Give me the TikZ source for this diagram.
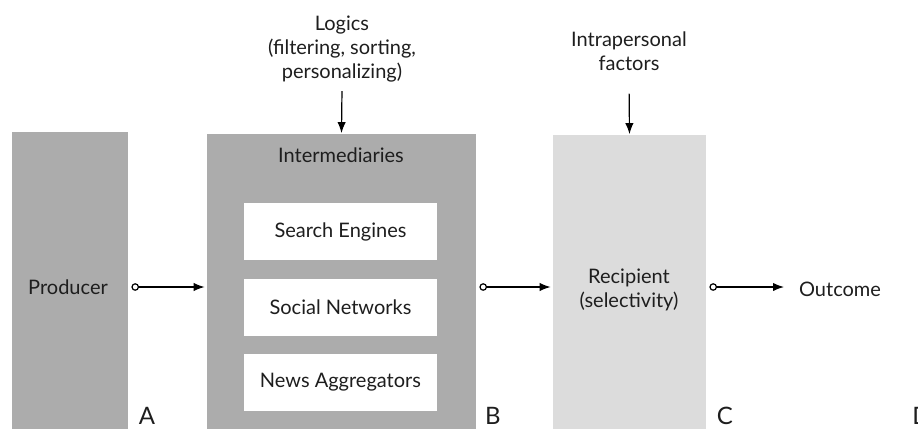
\documentclass[tikz,border=0pt]{standalone}
\usepackage{fontspec}
\setmainfont{Lato}
\usetikzlibrary{arrows.meta}

\definecolor{bardark}{RGB}{172,172,172}
\definecolor{barlight}{RGB}{220,220,220}
\definecolor{inktext}{RGB}{30,30,30}

\tikzset{
  darkbar/.style={fill=bardark, draw=none, inner sep=0pt},
  lightbar/.style={fill=barlight, draw=none, inner sep=0pt},
  channel/.style={fill=white, draw=none, minimum width=96.5pt, minimum height=28.5pt, inner sep=0pt},
  flow/.style={line width=0.6pt, {Circle[open, length=3.8pt, width=3.8pt]}-{Latex[length=5.5pt, width=4.2pt]}},
  influence/.style={line width=0.6pt, -{Latex[length=5.5pt, width=4.2pt]}},
  corner/.style={font=\large, text=inktext, inner sep=0pt}
}

\begin{document}
\begin{tikzpicture}[x=0.5pt, y=-0.5pt, text=inktext]
        \useasboundingbox (0,0) rectangle (918,429);
        % Draw the three bars
        \node[darkbar, minimum width=58pt, minimum height=149pt] (producer) at (70,280.5) {};
        \node[darkbar, minimum width=134.5pt, minimum height=148pt] (inter) at (341.5,281.5) {};
        \node[lightbar, minimum width=76.5pt, minimum height=147.5pt] (recipient) at (629.5,282) {};
        % Draw the labels inside the bars
        \node (prodtext) at (68,287) {Producer};
        \node (intertitle) at (341,155) {Intermediaries};
        \node[align=center] (rectext) at (629,290) {Recipient\\(selectivity)};
        % Draw the white channel boxes
        \node[channel] (search) at (340.5,231.5) {Search Engines};
        \node[channel] (social) at (340.5,307.5) {Social Networks};
        \node[channel] (news) at (340.5,382.5) {News Aggregators};
        % Draw the influences from above
        \node[align=center] (logics) at (342,49) {Logics\\(filtering, sorting,\\personalizing)};
        \node[align=center] (intra) at (629,51) {Intrapersonal\\factors};
        \draw[influence, shorten <=1pt] (logics.south) -- (inter.north);
        \draw[influence, shorten <=8pt] (intra.south) -- (recipient.north);
        % Draw the flow from producer to outcome
        \node (outcome) at (840,289) {Outcome};
        \draw[flow, shorten <=1.5pt, shorten >=1pt] (producer.east |- prodtext) -- (inter.west |- prodtext);
        \draw[flow, shorten <=1.5pt, shorten >=1pt] (inter.east |- prodtext) -- (recipient.west |- prodtext);
        \draw[flow, shorten <=1.5pt, shorten >=4pt] (recipient.east |- prodtext) -- (outcome.west |- prodtext);
        % Draw the stage letters
        \node[corner] (stageA) at (147,416) {A};
        \node[corner] (stageB) at (493,416) {B};
        \node[corner] (stageC) at (725,416) {C};
        \node[corner, anchor=west] (stageD) at (912,416) {D};
    \end{tikzpicture}
\end{document}
